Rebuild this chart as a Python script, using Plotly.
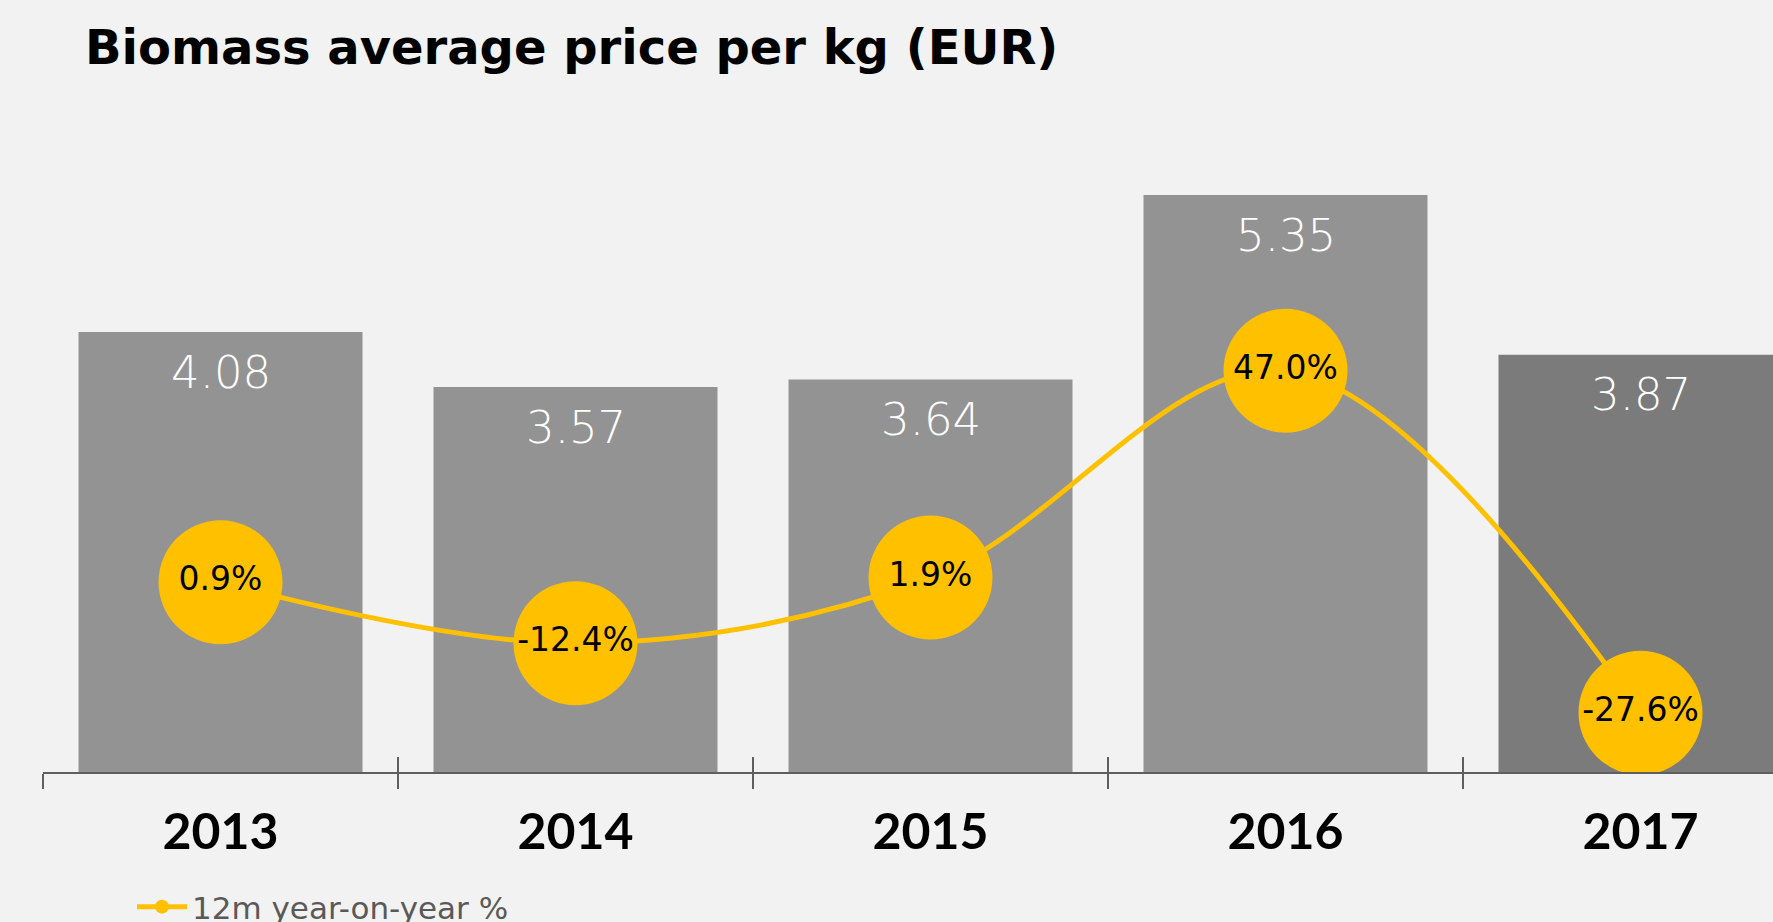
import plotly.graph_objects as go

years = ["2013", "2014", "2015", "2016", "2017"]
prices = [4.08, 3.57, 3.64, 5.35, 3.87]
yoy_pct = [0.9, -12.4, 1.9, 47.0, -27.6]
bar_colors = ["#939393", "#939393", "#939393", "#939393", "#7b7b7b"]
title_text = "Biomass average price per kg (EUR)"
legend_name = "12m year-on-year %"

W, H = 1773, 922
ml, mr, mt, mb = 43, 0, 125, 150
plot_w = W - ml - mr
cat_px = 355.0
x_range = [-0.5, -0.5 + plot_w / cat_px]

fig = go.Figure()

fig.add_trace(go.Bar(
    x=years, y=prices, marker=dict(color=bar_colors, line=dict(width=0)),
    width=0.8, showlegend=False, hoverinfo="skip",
))

fig.add_trace(go.Scatter(
    x=years, y=yoy_pct, xaxis="x2", yaxis="y2",
    mode="lines+markers+text",
    line=dict(color="#FFC000", width=5, shape="spline", smoothing=1.0),
    marker=dict(color="#FFC000", size=124, line=dict(width=0)),
    text=[f"{v:.1f}%" for v in yoy_pct],
    textposition="middle center",
    textfont=dict(family="DejaVu Sans", size=33, color="#000000"),
    showlegend=False, hoverinfo="skip",
))

# legend-only entry with small marker
fig.add_trace(go.Scatter(
    x=[None], y=[None], xaxis="x2", yaxis="y2",
    mode="lines+markers", name=legend_name,
    line=dict(color="#FFC000", width=5),
    marker=dict(color="#FFC000", size=14),
    showlegend=True,
))

for i, p in enumerate(prices):
    fig.add_annotation(
        x=i, y=p, xref="x", yref="y", text=f"{p:.2f}", showarrow=False,
        yanchor="middle", yshift=-40,
        font=dict(family="DejaVu Sans", size=45, color="#ffffff", weight=200),
    )

fig.update_layout(
    width=W, height=H,
    margin=dict(l=ml, r=mr, t=mt, b=mb, autoexpand=False),
    paper_bgcolor="#f2f2f2", plot_bgcolor="#f2f2f2",
    title=dict(text=title_text, x=85 / W, xanchor="left", xref="container",
               y=1 - 47 / H, yanchor="middle", yref="container",
               font=dict(family="DejaVu Sans", size=48, color="#000000", weight=700)),
    xaxis=dict(type="category", categoryorder="array", categoryarray=years,
               range=x_range, showline=True, linecolor="#5f5f5f", linewidth=2,
               ticks="outside", ticklen=15, tickwidth=2, tickcolor="#5f5f5f",
               tickson="boundaries", showgrid=False, zeroline=False,
               tickfont=dict(family="Lato", size=50, color="#000000", weight=700),
               ticklabelstandoff=15, automargin=False),
    xaxis2=dict(type="category", categoryorder="array", categoryarray=years,
                range=x_range, overlaying="x", anchor="y", side="bottom",
                ticks="inside", ticklen=15, tickwidth=2, tickcolor="#5f5f5f",
                tickson="boundaries", showticklabels=False, showline=False,
                showgrid=False, zeroline=False),
    yaxis=dict(range=[0, 6], visible=False, showgrid=False, zeroline=False),
    yaxis2=dict(range=[-40.5, 100.6], overlaying="y", visible=False,
                showgrid=False, zeroline=False),
    legend=dict(orientation="h", x=(132 - ml) / plot_w, xanchor="left",
                y=1 - 907 / H, yanchor="middle", yref="container",
                itemwidth=50,
                font=dict(family="DejaVu Sans", size=31, color="#595959"),
                bgcolor="rgba(0,0,0,0)"),
    bargap=0.2,
)

fig.write_html("out.html", config={"displayModeBar": False},
               post_script="document.body.style.margin='0';document.body.style.overflow='hidden';")
